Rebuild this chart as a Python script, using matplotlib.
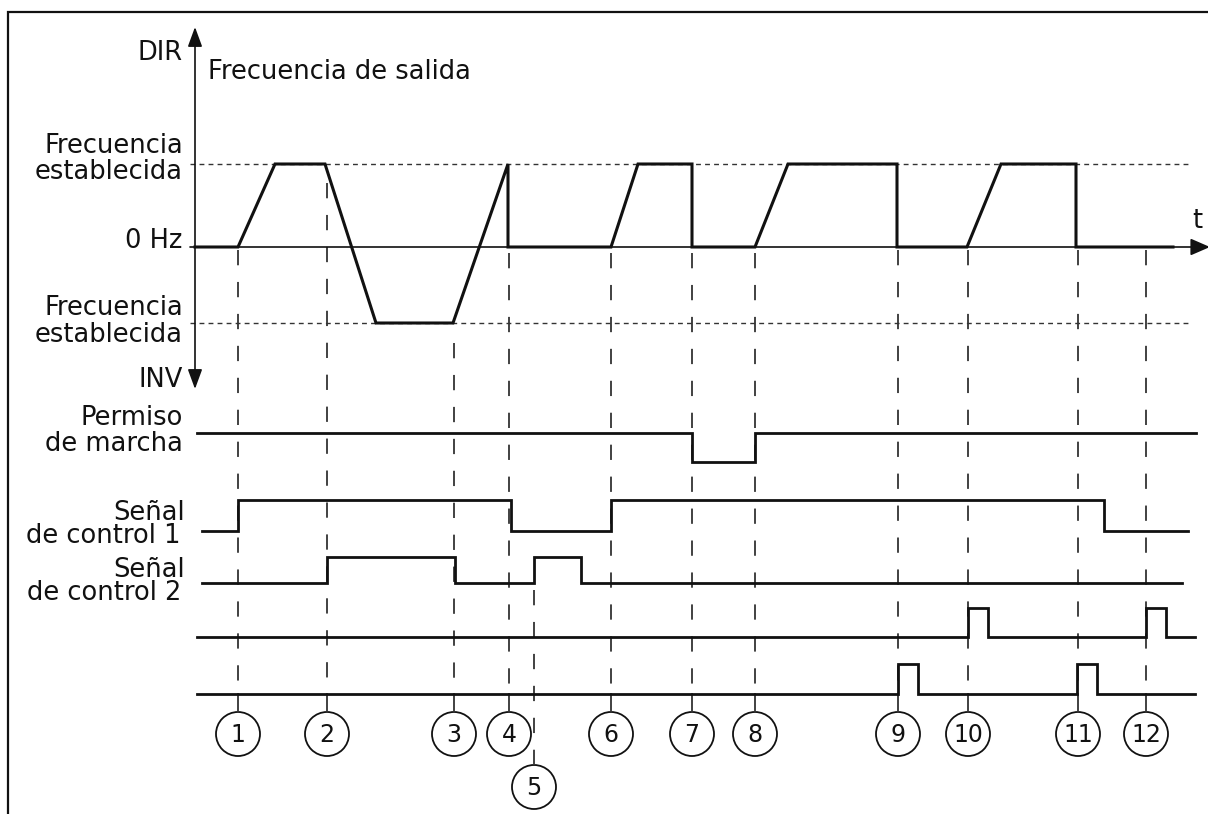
import matplotlib
matplotlib.use("Agg")
import matplotlib.pyplot as plt
from matplotlib.patches import Circle

# ---- data -------------------------------------------------------------
# event instants on the time axis (numbered circles 1..12)
events = [238, 327, 454, 509, 534, 611, 692, 755, 898, 968, 1078, 1146]
event_labels = [str(i) for i in range(1, 13)]

# output frequency: +1 = set frequency (DIR), 0 = 0 Hz, -1 = set frequency (INV)
freq_t = [195, 238, 275, 325, 376, 453, 508, 508, 611, 638, 692, 692,
          755, 788, 897, 897, 967, 1001, 1076, 1076, 1173]
freq_v = [0, 0, 1, 1, -1, -1, 1, 0, 0, 1, 1, 0,
          0, 1, 1, 0, 0, 1, 1, 0, 0]

# digital signals: edge times + level held from each edge (steps-post)
run_t = [197, 692, 755, 1196]
run_v = [1, 0, 1, 1]
ctrl1_t = [202, 238, 511, 611, 1104, 1188]
ctrl1_v = [0, 1, 0, 1, 0, 0]
ctrl2_t = [202, 327, 455, 534, 581, 1182]
ctrl2_v = [0, 1, 0, 1, 0, 0]
sig3_t = [197, 968, 988, 1146, 1166, 1195]
sig3_v = [0, 1, 0, 1, 0, 0]
sig4_t = [197, 898, 918, 1077, 1097, 1195]
sig4_v = [0, 1, 0, 1, 0, 0]

# ---- layout (pixel space) -------------------------------------------
Y_SET, Y_ZERO, Y_NEG = 164, 247, 323
X_AX = 195
rows = [  # (t, v, y_low, y_high)
    (run_t, run_v, 462, 433),
    (ctrl1_t, ctrl1_v, 531, 500),
    (ctrl2_t, ctrl2_v, 583, 557),
    (sig3_t, sig3_v, 637, 608),
    (sig4_t, sig4_v, 694, 664),
]
dash_top = [250, 183, 343, 253, 590, 253, 253, 253, 250, 250, 250, 250]
circ_y = [734] * 12
circ_y[4] = 787
R = 22
INK = "#111111"
GREY = "#333333"


def fy(v):
    return Y_ZERO - v * (Y_ZERO - Y_SET) if v >= 0 else Y_ZERO - v * (Y_NEG - Y_ZERO)


plt.rcParams["font.family"] = ["DejaVu Sans"]
plt.rcParams["lines.scale_dashes"] = False

fig = plt.figure(figsize=(12.08, 8.14), dpi=100)
ax = fig.add_axes([0, 0, 1, 1])
ax.set_xlim(0, 1208)
ax.set_ylim(814, 0)
ax.axis("off")

# frame (top + left)
ax.plot([8, 8, 1208], [814, 12, 12], color=INK, lw=1.6, solid_joinstyle="miter")

# set-frequency reference lines
for y in (Y_SET, Y_NEG):
    ax.plot([190, 1190], [y, y], color=GREY, lw=1.0, dashes=(3.5, 3.0))

# axes with arrows
head = "head_length=0.6,head_width=0.22"
ax.annotate("", xy=(X_AX, 27), xytext=(X_AX, 389),
            arrowprops=dict(arrowstyle="<|-|>," + head, mutation_scale=20,
                            color=INK, lw=1.2, shrinkA=0, shrinkB=0),
            annotation_clip=False)
ax.annotate("", xy=(1210, Y_ZERO), xytext=(190, Y_ZERO),
            arrowprops=dict(arrowstyle="-|>,head_length=0.6,head_width=0.26",
                            mutation_scale=20,
                            color=INK, lw=1.2, shrinkA=0, shrinkB=0),
            annotation_clip=False)

# event markers: dashed guides, connectors, numbered circles
for x, top, cy, lab in zip(events, dash_top, circ_y, event_labels):
    ax.plot([x, x], [top, cy - R if cy > 760 else 694], color=GREY, lw=1.3,
            dashes=(11, 12))
    if cy < 760:
        ax.plot([x, x], [694, cy - R], color=GREY, lw=1.3)
    ax.add_patch(Circle((x, cy), R, fill=False, ec=INK, lw=1.3))
    ax.text(x, cy + 1, lab, ha="center", va="center", fontsize=17, color=INK)

# output frequency waveform
ax.plot(freq_t, [fy(v) for v in freq_v], color=INK, lw=2.2,
        solid_joinstyle="miter")

# digital signals
for t, v, ylo, yhi in rows:
    ax.plot(t, [ylo if s == 0 else yhi for s in v], drawstyle="steps-post",
            color=INK, lw=2.0, solid_joinstyle="miter")

# texts
fs = 18.5
txt = dict(fontsize=fs, color=INK, va="baseline")
ax.text(183, 60, "DIR", ha="right", **txt)
ax.text(208, 79, "Frecuencia de salida", ha="left", **txt)
ax.text(183, 153, "Frecuencia", ha="right", **txt)
ax.text(183, 179, "establecida", ha="right", **txt)
ax.text(182, 248, "0 Hz", ha="right", **txt)
ax.text(183, 315, "Frecuencia", ha="right", **txt)
ax.text(183, 342, "establecida", ha="right", **txt)
ax.text(183, 387, "INV", ha="right", **txt)
ax.text(183, 425, "Permiso", ha="right", **txt)
ax.text(183, 451, "de marcha", ha="right", **txt)
ax.text(185, 520, "Señal", ha="right", **txt)
ax.text(181, 543, "de control 1", ha="right", **txt)
ax.text(185, 577, "Señal", ha="right", **txt)
ax.text(181, 600, "de control 2", ha="right", **txt)
ax.text(1197, 228, "t", ha="center", **txt)

fig.savefig("out.png", dpi=100)
